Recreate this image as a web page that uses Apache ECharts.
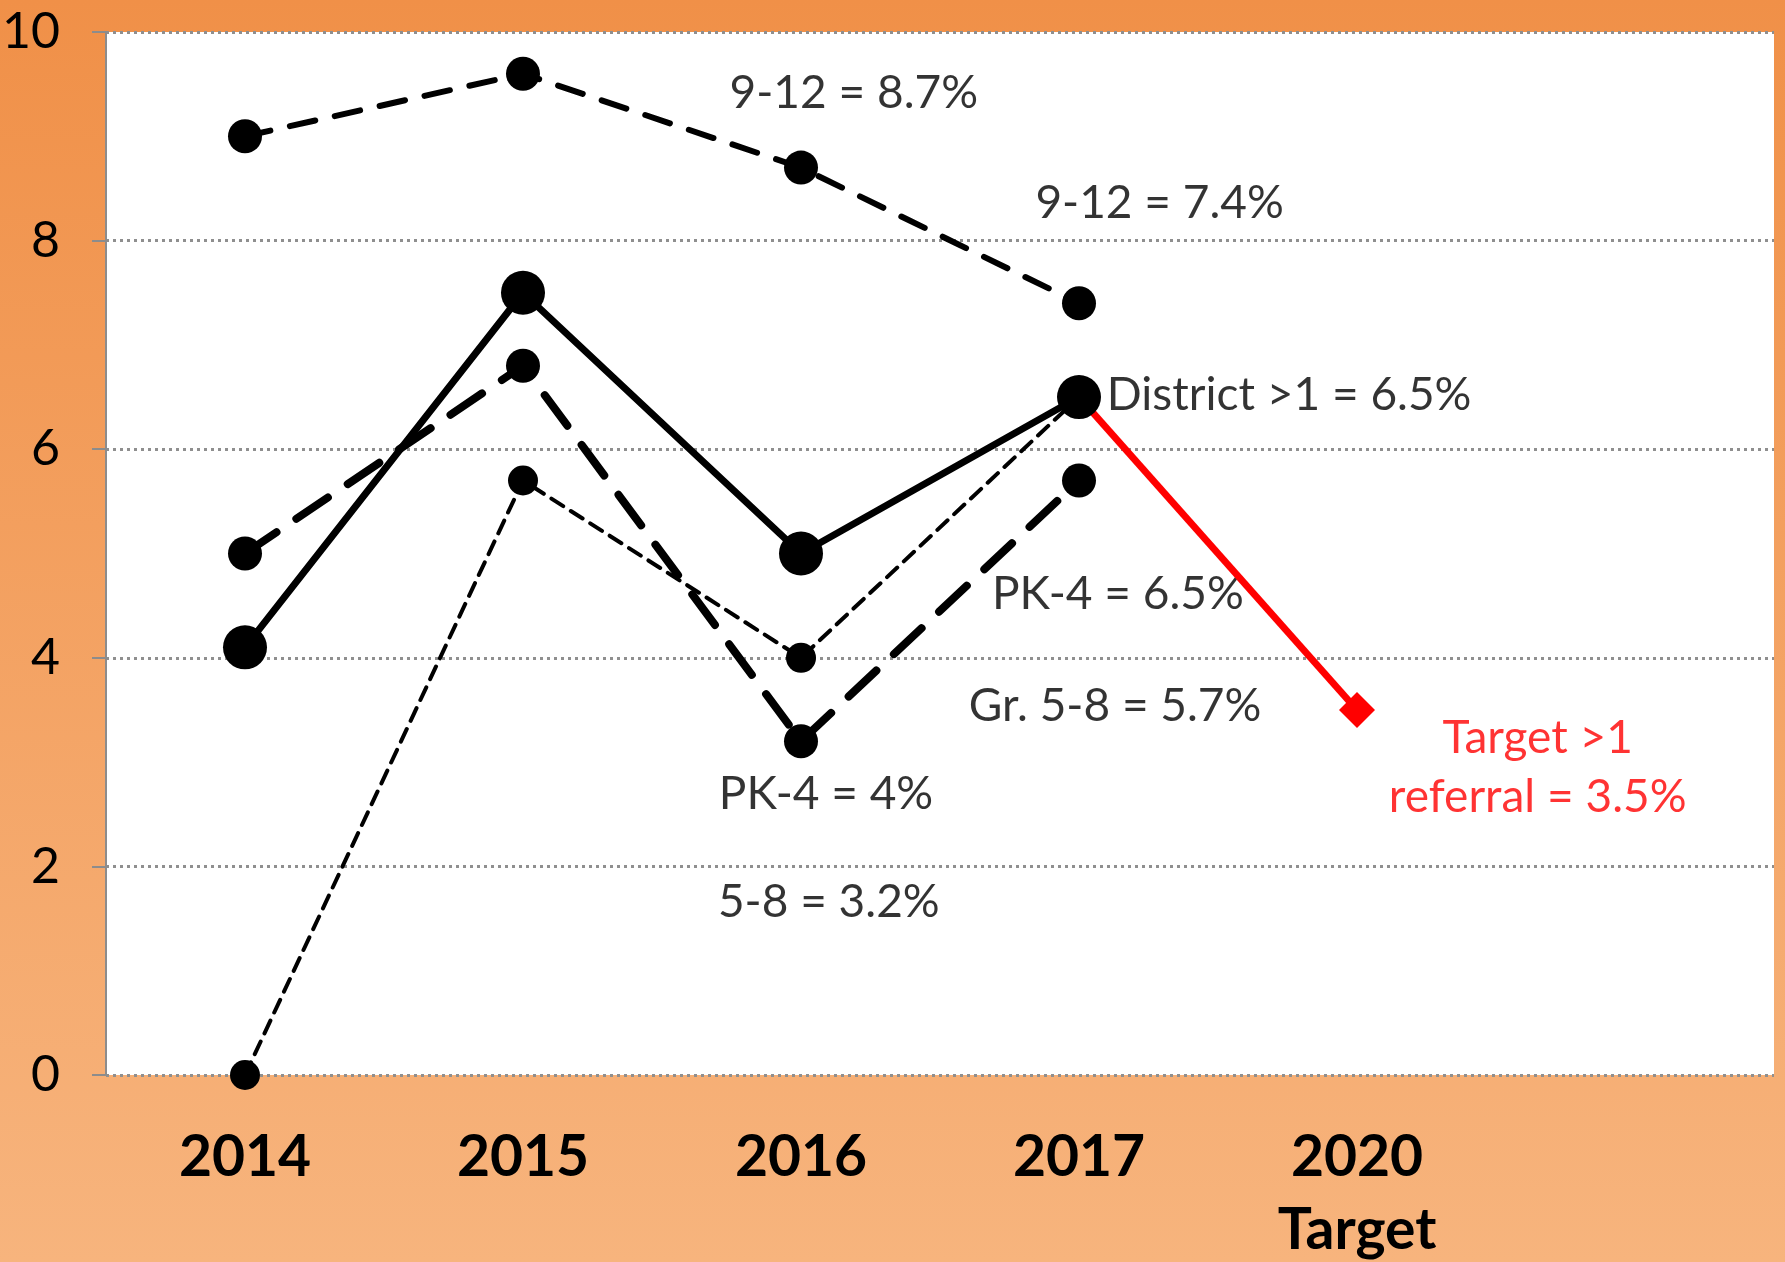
<!DOCTYPE html>
<html lang="en">
<head>
    <meta charset="UTF-8">
    <title>Referral rates</title>
    <script src="https://cdn.jsdelivr.net/npm/echarts@6/dist/echarts.min.js"></script>
    <style>
        html, body {
            margin: 0;
            border: 0;
        }

        #chart {
            height: 1262px;
            width: 1785px;
        }
    </style>
</head>
<body>
<div id="chart"></div>
<script type="text/javascript">
    const years = ['2014', '2015', '2016', '2017', '2020\nTarget', ''];
    const grades912 = [9.0, 9.6, 8.7, 7.4];
    const district = [4.1, 7.5, 5.0, 6.5];
    const grades58 = [5.0, 6.8, 3.2, 5.7];
    const pk4 = [0, 5.7, 4.0, 6.5];
    const target = [null, null, null, 6.5, 3.5];

    // annotation text, placed in data space: [text, x (category index), y (value), align]
    const notes = [
        ['9-12 = 8.7%', 2.19, 9.41, 'center'],
        ['9-12 = 7.4%', 3.29, 8.36, 'center'],
        ['District >1 = 6.5%', 3.10, 6.52, 'left'],
        ['PK-4 = 6.5%', 3.14, 4.61, 'center'],
        ['Gr. 5-8 = 5.7%', 3.13, 3.54, 'center'],
        ['PK-4 = 4%', 2.09, 2.69, 'center'],
        ['5-8 = 3.2%', 2.10, 1.66, 'center']
    ];
    const targetNote = ['Target >1\nreferral = 3.5%', 4.65, 2.95];

    const font = 'Lato';

    window.onload = () => {
        const chart = echarts.init(document.querySelector('#chart'));
        const lineSeries = (name, data, width, dash, size) => ({
            name: name,
            type: 'line',
            data: data,
            symbol: 'circle',
            symbolSize: size,
            animation: false,
            itemStyle: {color: '#000'},
            lineStyle: {color: '#000', width: width, type: dash, cap: 'round'}
        });
        const noteLabel = (text, align, color) => ({
            show: true, position: 'inside', formatter: text, align: align,
            color: color, fontFamily: font, fontSize: 46, lineHeight: 59,
            textBorderWidth: 0, textShadowBlur: 0
        });
        const option = {
            backgroundColor: {
                type: 'linear', x: 0, y: 0, x2: 0, y2: 1,
                colorStops: [{offset: 0, color: '#F09048'}, {offset: 1, color: '#F7B47D'}]
            },
            grid: {
                left: 106, right: 11, top: 32, bottom: 187,
                outerBoundsMode: 'none', containLabel: false,
                show: true, backgroundColor: '#fff', borderWidth: 0
            },
            xAxis: [{
                type: 'category',
                data: years,
                axisLine: {show: false},
                axisTick: {show: false},
                axisLabel: {
                    color: '#000', fontFamily: font, fontWeight: 'bold', fontSize: 57,
                    lineHeight: 73, margin: 46, interval: 0
                }
            }, {
                type: 'value', min: -0.5, max: 5.5, show: false
            }],
            yAxis: {
                type: 'value',
                min: 0, max: 10, interval: 2,
                axisLine: {show: true, onZero: false, lineStyle: {color: '#8c8c8c', width: 2}},
                axisTick: {show: true, length: 14, lineStyle: {color: '#8c8c8c', width: 2}},
                splitLine: {lineStyle: {color: '#8f8f8f', width: 3, type: [3, 4]}},
                axisLabel: {color: '#000', fontFamily: font, fontSize: 50, margin: 46}
            },
            series: [
                lineSeries('PK-4', pk4, 4, [14, 9], 30),
                lineSeries('Gr. 5-8', grades58, 8, [38, 24], 34),
                lineSeries('9-12', grades912, 6, [26, 20], 34),
                {
                    name: 'Target',
                    type: 'line',
                    data: target.map((v, i) => i === 3 ? {value: v, symbol: 'none'} : v),
                    animation: false,
                    symbol: 'diamond',
                    symbolSize: 36,
                    itemStyle: {color: '#ff0000'},
                    lineStyle: {color: '#ff0000', width: 7}
                },
                lineSeries('District', district, 7, 'solid', 44),
                {
                    type: 'scatter',
                    xAxisIndex: 1,
                    symbolSize: 0,
                    animation: false,
                    silent: true,
                    data: notes.map(n => ({
                        value: [n[1], n[2]],
                        label: noteLabel(n[0], n[3], '#000')
                    })).concat([{
                        value: [targetNote[1], targetNote[2]],
                        label: noteLabel(targetNote[0], 'center', '#ff0000')
                    }])
                }
            ]
        };
        chart.setOption(option, true);
    }
</script>
</body>
</html>
